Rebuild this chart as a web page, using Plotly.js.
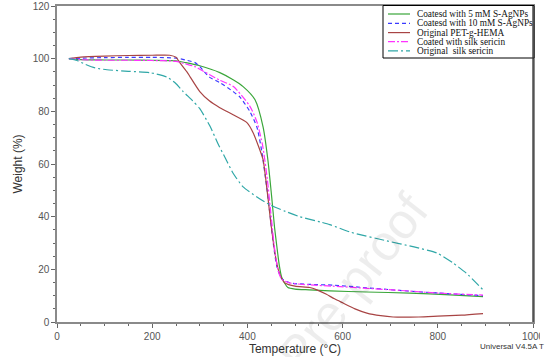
<!DOCTYPE html>
<html>
<head>
<meta charset="utf-8">
<script src="https://cdn.plot.ly/plotly-3.0.1.min.js"></script>
<style>html,body{margin:0;padding:0;background:#fff;}#chart{width:554px;height:357px;}</style>
</head>
<body>
<div id="chart"></div>
<script>
// ---- data ----
const seriesNames = ["Coatesd with 5 mM S-AgNPs", "Coatesd with 10 mM S-AgNPs", "Original PET-g-HEMA", "Coated with silk sericin", "Original  silk sericin"];

const tempGreen = [25, 50, 100, 150, 200, 250, 270, 300, 342, 370, 391, 416, 433, 443, 451, 457, 462, 467, 472, 478, 485, 500, 530, 573, 650, 741, 826, 895];
const wtGreen   = [100, 99.6, 99.5, 99.5, 99.4, 99.2, 98.5, 97.3, 94.7, 92, 89.4, 84.4, 74, 61.6, 47.5, 36, 28.5, 21.5, 17, 14.8, 13.1, 12.5, 12.2, 11.8, 11.4, 11, 10.3, 9.6];

const tempBlue = [25, 50, 100, 150, 200, 250, 270, 290, 300, 320, 342, 370, 384, 405, 420, 430, 440, 448, 455, 462, 472, 490, 530, 580, 650, 720, 800, 895];
const wtBlue   = [100, 100.2, 100.4, 100.5, 100.5, 100.2, 99.5, 98.5, 97, 93, 90.9, 87.5, 85.5, 80, 74, 65, 52, 40, 29, 21, 16.5, 14.8, 14.3, 14, 13, 12, 11, 10];

const tempRed = [25, 50, 100, 150, 200, 237, 250, 258, 273, 280, 300, 320, 342, 370, 399, 412, 426, 433, 443, 449, 454, 460, 465, 472, 479, 500, 531, 546, 565, 583, 601, 626, 651, 680, 706, 760, 800, 850, 895];
const wtRed   = [100, 100.6, 101, 101.2, 101.3, 101.3, 100.5, 98.5, 95, 93, 87.5, 84, 81.4, 78.7, 75.7, 71.9, 65.4, 61.6, 47.5, 38, 31, 24, 19.8, 16.5, 14.8, 13.6, 13.1, 12.2, 10.6, 8.8, 7.2, 5, 3.4, 2.4, 1.9, 1.9, 2.2, 2.6, 3.2];

const tempMagenta = [25, 50, 100, 150, 200, 250, 270, 290, 300, 320, 342, 370, 405, 420, 432, 442, 450, 457, 464, 472, 490, 530, 580, 650, 720, 800, 895];
const wtMagenta   = [100, 99.6, 99.4, 99.4, 99.3, 99, 98, 97, 96, 94, 91.8, 89.5, 82, 76, 67, 54, 40, 28, 20, 16.2, 14.8, 14.1, 13.6, 12.8, 12, 11, 10.2];

const tempTeal = [25, 42, 60, 80, 105, 150, 195, 231, 250, 265, 285, 300, 321, 340, 353, 370, 391, 420, 447, 480, 510, 553, 573, 615, 693, 750, 798, 832, 860, 895];
const wtTeal   = [100, 99.3, 97.8, 96.5, 95.8, 95.2, 94.7, 93, 90.5, 87.5, 84, 81, 74.5, 67, 62.5, 56.5, 51.3, 47.5, 44.5, 42, 40, 38, 37, 34.2, 30.8, 28.5, 26.2, 22.4, 18.5, 12.2];

const xTickVals = [0, 200, 400, 600, 800, 1000];
const yTickVals = [0, 20, 40, 60, 80, 100, 120];

// ---- styles ----
const colors = ["#3aa63a", "#3a3aff", "#a84444", "#ff33ff", "#2fa7a7"];
const dashes = ["solid", "4px,3px", "solid", "7px,2px,2px,2px", "10px,3px,2px,3px"];

const xs = [tempGreen, tempBlue, tempRed, tempMagenta, tempTeal];
const ys = [wtGreen, wtBlue, wtRed, wtMagenta, wtTeal];

const traces = xs.map((x, i) => ({
  x: x, y: ys[i], type: "scatter", mode: "lines", name: seriesNames[i],
  line: {color: colors[i], width: 1.2, dash: dashes[i], shape: "spline", smoothing: 0.6},
  showlegend: false, hoverinfo: "skip"
}));

// plot area geometry in px for paper conversions
const L = 57, R = 533, T = 6, B = 322, W = 554, H = 357;
const px2x = p => (p - L) / (R - L);
const py2y = p => (B - p) / (B - T);

const shapes = [];
const annotations = [];

// watermark (drawn first, very faint; mostly below the picture's edge like the reference)
annotations.push({xref: "paper", yref: "paper", x: px2x(298), y: py2y(525), text: "Journal Pre-proof", showarrow: false,
  textangle: -52, font: {family: "Liberation Sans, Arial, sans-serif", size: 50, color: "rgba(0,0,0,0.07)"}});

// legend box
shapes.push({type: "rect", xref: "paper", yref: "paper", x0: px2x(383), x1: px2x(534), y0: py2y(58), y1: py2y(5.5),
  line: {color: "#000", width: 1}, fillcolor: "#fff", layer: "above"});
const rowY = [14, 23.3, 32.6, 41.7, 50.8];
seriesNames.forEach((n, i) => {
  shapes.push({type: "line", xref: "paper", yref: "paper", x0: px2x(388), x1: px2x(410), y0: py2y(rowY[i]), y1: py2y(rowY[i]),
    line: {color: colors[i], width: 1.2, dash: dashes[i]}, layer: "above"});
  annotations.push({xref: "paper", yref: "paper", x: px2x(415), y: py2y(rowY[i]), xanchor: "left", yanchor: "middle",
    text: n, showarrow: false, font: {family: "Liberation Serif, Times New Roman, serif", size: 9.3, color: "#111"}});
});
// right frame line darker
shapes.push({type: "line", xref: "paper", yref: "paper", x0: 1, x1: 1, y0: 0, y1: 1, line: {color: "#333", width: 1.3}, layer: "above"});
// crop mask at right edge (original picture is cut at ~540px)
shapes.push({type: "rect", xref: "paper", yref: "paper", x0: px2x(540), x1: px2x(560), y0: py2y(360), y1: py2y(323),
  line: {width: 0}, fillcolor: "#fff", layer: "above"});

// instrument stamp
annotations.push({xref: "paper", yref: "paper", x: px2x(478), y: py2y(346), xanchor: "left", yanchor: "middle",
  text: "Universal V4.5A T", showarrow: false, font: {family: "Liberation Sans, Arial, sans-serif", size: 8, color: "#333"}});

const axisCommon = {
  showgrid: false, zeroline: false, showline: true, linecolor: "#8a8a8a", linewidth: 1.6, mirror: true,
  ticks: "outside", ticklen: 4, tickwidth: 1, tickcolor: "#666",
  tickfont: {family: "Liberation Sans, Arial, sans-serif", size: 10, color: "#555"}
};

const layout = {
  width: W, height: H,
  margin: {l: L, r: W - R, t: T, b: H - B, pad: 0},
  paper_bgcolor: "#fff", plot_bgcolor: "#fff",
  xaxis: Object.assign({}, axisCommon, {
    range: [0, 1000], tickvals: xTickVals, ticktext: xTickVals.map(String),
    minor: {dtick: 50, ticklen: 2, tickcolor: "#666", ticks: "outside"},
    title: {text: "Temperature (°C)", standoff: 2, font: {family: "Liberation Sans, Arial, sans-serif", size: 12, color: "#333"}}
  }),
  yaxis: Object.assign({}, axisCommon, {
    range: [0, 120], tickvals: yTickVals, ticktext: yTickVals.map(String),
    minor: {dtick: 5, ticklen: 2, tickcolor: "#666", ticks: "outside"},
    title: {text: "Weight (%)", standoff: 7, font: {family: "Liberation Sans, Arial, sans-serif", size: 12, color: "#333"}}
  }),
  shapes: shapes, annotations: annotations, showlegend: false
};

Plotly.newPlot("chart", traces, layout, {staticPlot: true, displayModeBar: false});
</script>
</body>
</html>
